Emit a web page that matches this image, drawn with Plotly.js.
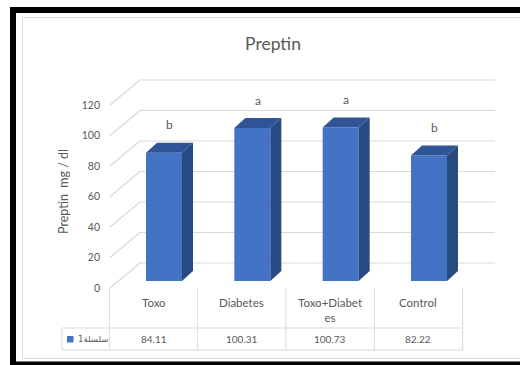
<!DOCTYPE html>
<html>
<head>
<meta charset="utf-8">
<script src="https://cdn.plot.ly/plotly-3.0.1.min.js"></script>
<style>
  html, body { margin: 0; padding: 0; background: #ffffff; }
  #chart { width: 520px; height: 365px; }
</style>
</head>
<body>
<div id="chart"></div>
<script>
// ---- data ----
const categories = ['Toxo', 'Diabetes', 'Toxo+Diabetes', 'Control'];
const preptin = [84.11, 100.31, 100.73, 82.22];
const groupLetters = ['b', 'a', 'a', 'b'];
const yTicks = [0, 20, 40, 60, 80, 100, 120];
const seriesName = 'سلسلة1';

// ---- geometry (pixels) ----
const W = 520, H = 365;
const COL0 = 153.5;   // pixel of first category centre
const COLW = 88.33;   // pixels per category
const Y0 = 288;       // pixel of value 0 on the front plane
const PXU = 1.525;    // pixels per value unit
const xu = px => px / COLW;
const yu = px => px / PXU;
const px2paperX = px => px / W;
const px2paperY = py => 1 - py / H;

const barShiftX = xu(10.5), barBase = yu(7), barWidth = xu(36);
const depthX = xu(11), depthY = yu(10);      // bar depth
const wallX = xu(30), wallY = yu(25);        // back wall offset
const wallLeft = xu(110 - COL0);
const wallRight = xu(495 - COL0);

const BLUE = '#4472C4', TOP = '#2F5597', SIDE = '#284A82';
const GRID = '#d9d9d9', TXT = '#595959';

const xs = categories.map((c, i) => i + barShiftX);

// front faces
const bars = {
  type: 'bar', x: xs, y: preptin, base: preptin.map(() => barBase),
  width: barWidth, marker: { color: BLUE, line: { width: 0 } },
  hoverinfo: 'skip', showlegend: false
};

// top and side faces, built from the same values
const topX = [], topY = [], sideX = [], sideY = [];
preptin.forEach((v, i) => {
  const l = xs[i] - barWidth / 2, r = xs[i] + barWidth / 2, t = v + barBase;
  topX.push(l, r, r + depthX, l + depthX, l, null);
  topY.push(t, t, t + depthY, t + depthY, t, null);
  sideX.push(r, r, r + depthX, r + depthX, r, null);
  sideY.push(barBase, t, t + depthY, barBase + depthY, barBase, null);
});
const tops = { type: 'scatter', mode: 'lines', x: topX, y: topY, fill: 'toself',
  fillcolor: TOP, line: { width: 0, color: TOP }, hoverinfo: 'skip', showlegend: false };
const sides = { type: 'scatter', mode: 'lines', x: sideX, y: sideY, fill: 'toself',
  fillcolor: SIDE, line: { width: 0, color: SIDE }, hoverinfo: 'skip', showlegend: false };

const shapes = [];
// outer frame and chart border
shapes.push({ type: 'rect', xref: 'paper', yref: 'paper',
  x0: px2paperX(13), x1: px2paperX(600), y0: px2paperY(364.5), y1: px2paperY(10),
  line: { color: '#000000', width: 6 }, layer: 'above' });
shapes.push({ type: 'rect', xref: 'paper', yref: 'paper',
  x0: px2paperX(22.5), x1: px2paperX(600), y0: px2paperY(358.5), y1: px2paperY(17.5),
  line: { color: '#d9d9d9', width: 1 }, layer: 'below' });

// back-wall gridlines and side-wall diagonals
yTicks.forEach(t => {
  shapes.push({ type: 'line', xref: 'x', yref: 'y', layer: 'below',
    x0: wallLeft + wallX, x1: wallRight, y0: t + wallY, y1: t + wallY,
    line: { color: GRID, width: 1.2 } });
  shapes.push({ type: 'line', xref: 'x', yref: 'y', layer: 'below',
    x0: wallLeft, x1: wallLeft + wallX, y0: t, y1: t + wallY,
    line: { color: GRID, width: 1.2 } });
});

// data table grid
const tableTop = 288, rowLine = 328, tableBottom = 350, legendLeft = 62;
for (let i = 0; i <= categories.length; i++) {
  shapes.push({ type: 'line', xref: 'x', yref: 'paper', layer: 'below',
    x0: i - 0.5, x1: i - 0.5, y0: px2paperY(tableTop), y1: px2paperY(tableBottom),
    line: { color: GRID, width: 1 } });
}
[rowLine, tableBottom].forEach(py => {
  shapes.push({ type: 'line', xref: 'paper', yref: 'paper', layer: 'below',
    x0: px2paperX(legendLeft), x1: px2paperX(COL0 + COLW * (categories.length - 0.5)),
    y0: px2paperY(py), y1: px2paperY(py), line: { color: GRID, width: 1 } });
});
shapes.push({ type: 'line', xref: 'paper', yref: 'paper', layer: 'below',
  x0: px2paperX(legendLeft), x1: px2paperX(legendLeft),
  y0: px2paperY(rowLine), y1: px2paperY(tableBottom), line: { color: GRID, width: 1 } });
// legend key
shapes.push({ type: 'rect', xref: 'paper', yref: 'paper', layer: 'above',
  x0: px2paperX(67), x1: px2paperX(73.5), y0: px2paperY(342.5), y1: px2paperY(336),
  fillcolor: BLUE, line: { width: 0 } });

const FONT = 'Lato, "Open Sans", sans-serif';
const annotations = [];
// axis title
annotations.push({ xref: 'paper', yref: 'paper', x: px2paperX(64), y: px2paperY(192),
  text: 'Preptin  mg / dl', textangle: -90, showarrow: false,
  font: { family: FONT, size: 12.5, color: TXT }, xanchor: 'center', yanchor: 'middle' });
// significance letters above each bar
groupLetters.forEach((g, i) => {
  annotations.push({ xref: 'x', yref: 'y', x: xs[i] + depthX / 2,
    y: preptin[i] + barBase + depthY, yshift: 18, text: g, showarrow: false,
    font: { family: FONT, size: 12, color: TXT }, xanchor: 'center', yanchor: 'middle' });
});
// table: category row and value row
const wrapLabel = s => s.length > 11 ? s.slice(0, 11) + '<br>' + s.slice(11) : s;
categories.forEach((c, i) => {
  annotations.push({ xref: 'x', yref: 'paper', x: i, y: px2paperY(294),
    text: wrapLabel(c), showarrow: false, font: { family: FONT, size: 11.5, color: TXT },
    xanchor: 'center', yanchor: 'top' });
  annotations.push({ xref: 'x', yref: 'paper', x: i, y: px2paperY(339),
    text: preptin[i].toFixed(2), showarrow: false, font: { family: FONT, size: 10, color: TXT },
    xanchor: 'center', yanchor: 'middle' });
});
annotations.push({ xref: 'paper', yref: 'paper', x: px2paperX(93), y: px2paperY(339),
  text: seriesName, showarrow: false, font: { family: '"DejaVu Sans", sans-serif', size: 8.5, color: TXT },
  xanchor: 'center', yanchor: 'middle' });

const layout = {
  width: W, height: H,
  margin: { l: 0, r: 0, t: 0, b: 0, pad: 0 },
  paper_bgcolor: '#ffffff', plot_bgcolor: 'rgba(0,0,0,0)',
  showlegend: false,
  title: { text: 'Preptin', x: px2paperX(273), y: px2paperY(44), xanchor: 'center', yanchor: 'middle',
    font: { family: FONT, size: 17.5, color: TXT } },
  xaxis: { type: 'linear', range: [xu(0 - COL0), xu(W - COL0)], visible: false, fixedrange: true },
  yaxis: { type: 'linear', range: [yu(Y0 - H), yu(Y0)], anchor: 'free', position: px2paperX(100),
    tickvals: yTicks, ticktext: yTicks.map(String), ticks: '', showgrid: false, zeroline: false,
    showline: false, tickfont: { family: FONT, size: 10.5, color: TXT }, fixedrange: true },
  shapes: shapes,
  annotations: annotations
};

Plotly.newPlot('chart', [bars, tops, sides], layout, { displayModeBar: false, staticPlot: true });
</script>
</body>
</html>
